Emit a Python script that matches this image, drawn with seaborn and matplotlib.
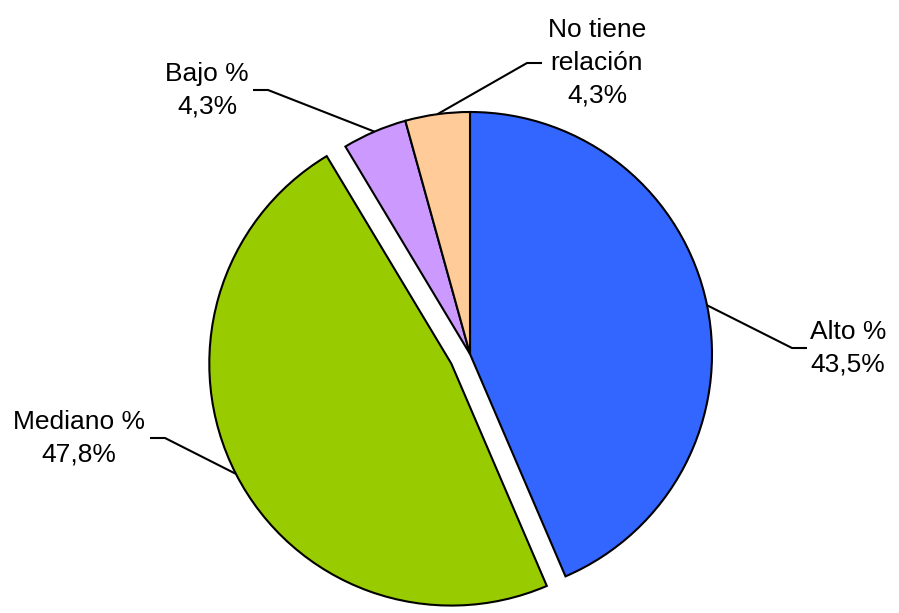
import numpy as np
import matplotlib
matplotlib.use("Agg")
import matplotlib.pyplot as plt
import seaborn as sns

# Category labels, percentages and slice colours
categories = ["Alto %", "Mediano %", "Bajo %", "No tiene\nrelación"]
percentages = [43.5, 47.8, 4.3, 4.3]
colors = ["#3366FF", "#99CC00", "#CC99FF", "#FFCC99"]
# pie offsets are in data units (pixels here)
explode = [0.0, 21.0, 0.0, 0.0]

sns.set_theme(style="white")
plt.rcParams["font.family"] = ["Liberation Sans", "DejaVu Sans"]

W, H = 899, 613
fig = plt.figure(figsize=(W / 100, H / 100), dpi=100)
ax = fig.add_axes([0, 0, 1, 1])

cx, cy, R = 470, H - 354, 242
wedges, _ = ax.pie(
    percentages,
    colors=colors,
    explode=explode,
    startangle=90,
    counterclock=False,
    center=(cx, cy),
    radius=R,
    wedgeprops=dict(edgecolor="black", linewidth=1.5),
    frame=True,
)
ax.set_xlim(0, W)
ax.set_ylim(0, H)
ax.set_aspect("equal")
ax.axis("off")

# Label layout: elbow point of the leader line, horizontal run direction,
# and text centre (pixel coordinates, y measured from the top)
layout = [
    dict(elbow=(792, 348), run=15, text=(848, 348)),
    dict(elbow=(165, 438), run=-15, text=(79, 438)),
    dict(elbow=(268, 90), run=-15, text=(207, 90)),
    dict(elbow=(527, 63), run=15, text=(597, 63)),
]

for w, cat, pct, lay in zip(wedges, categories, percentages, layout):
    mid = np.deg2rad((w.theta1 + w.theta2) / 2)
    wx, wy = w.center
    r = w.r
    sx, sy = wx + r * np.cos(mid), wy + r * np.sin(mid)
    ex, ey = lay["elbow"][0], H - lay["elbow"][1]
    hx = ex + lay["run"]
    ax.plot([sx, ex, hx], [sy, ey, ey], color="black", lw=1.5,
            solid_capstyle="butt", zorder=3)
    label = f"{cat}\n{pct:.1f}%".replace(".", ",")
    ax.text(lay["text"][0], H - lay["text"][1], label, ha="center",
            va="center", fontsize=19, linespacing=1.45, color="black")

fig.savefig("out.png", dpi=100)
